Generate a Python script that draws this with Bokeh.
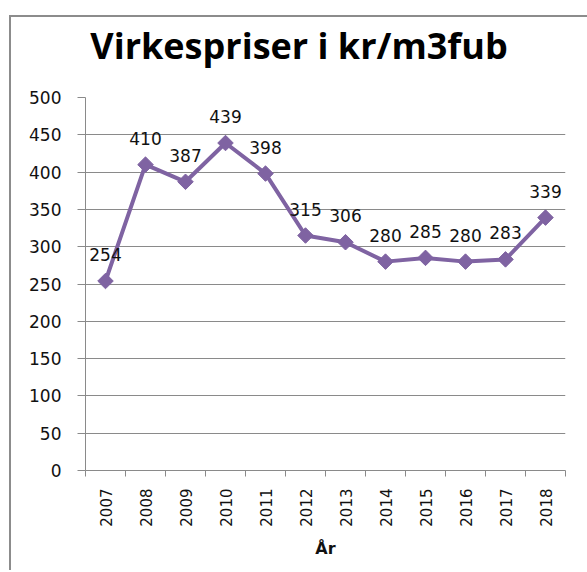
import math
from bokeh.plotting import figure
from bokeh.layouts import column
from bokeh.models import ColumnDataSource, FixedTicker, LabelSet, Range1d, Div
from bokeh.core.properties import value
from bokeh.embed import file_html
from bokeh.resources import INLINE

# ---- data ----
years = ["2007", "2008", "2009", "2010", "2011", "2012",
         "2013", "2014", "2015", "2016", "2017", "2018"]
prices = [254, 410, 387, 439, 398, 315, 306, 280, 285, 280, 283, 339]
y_ticks = [0, 50, 100, 150, 200, 250, 300, 350, 400, 450, 500]
title_text = "Virkespriser i kr/m3fub"
x_label = "År"

LINE_COLOR = "#7f63a2"
GRID_COLOR = "#8a8a8a"

xs = list(range(len(years)))
src = ColumnDataSource(dict(x=xs, y=prices, label=[str(v) for v in prices]))

title_div = Div(text='<div style="padding-top:11px; text-align:center; width:576px;">'
                     + title_text + '</div>',
                width=576, height=63, margin=(0, 0, 0, 0),
                styles={"font-family": "'Open Sans'", "font-weight": "700",
                        "font-size": "36px", "line-height": "36px",
                        "color": "#000000"})

p = figure(frame_width=480, frame_height=373,
           min_border_left=74, min_border_right=22,
           min_border_top=17, min_border_bottom=100,
           x_range=Range1d(-0.5, len(years) - 0.5),
           y_range=Range1d(y_ticks[0], y_ticks[-1]),
           output_backend="svg", toolbar_location=None,
           margin=(0, 0, 0, 0))

p.outline_line_color = None
p.background_fill_color = "white"
p.border_fill_color = "white"

# y axis
p.yaxis.ticker = FixedTicker(ticks=y_ticks)
p.yaxis.axis_line_color = GRID_COLOR
p.yaxis.major_tick_line_color = GRID_COLOR
p.yaxis.major_tick_out = 8
p.yaxis.major_tick_in = 0
p.yaxis.minor_tick_line_color = None
p.yaxis.major_label_standoff = 16
p.yaxis.major_label_text_font = "DejaVu Sans"
p.yaxis.major_label_text_font_size = "17px"
p.yaxis.major_label_text_color = "#111111"

# x axis: labels at category centres, ticks at boundaries
boundaries = [i - 0.5 for i in range(len(years) + 1)]
p.xaxis.ticker = FixedTicker(ticks=xs, minor_ticks=boundaries)
p.xaxis.major_label_overrides = {i: y for i, y in enumerate(years)}
p.xaxis.major_label_orientation = math.pi / 2
p.xaxis.axis_line_color = GRID_COLOR
p.xaxis.major_tick_line_color = None
p.xaxis.major_tick_out = 0
p.xaxis.major_tick_in = 0
p.xaxis.minor_tick_line_color = GRID_COLOR
p.xaxis.minor_tick_out = 6
p.xaxis.minor_tick_in = 0
p.xaxis.major_label_standoff = 12
p.xaxis.major_label_text_font = "DejaVu Sans"
p.xaxis.major_label_text_font_size = "15px"
p.xaxis.major_label_text_color = "#111111"
p.xaxis.axis_label = x_label
p.xaxis.axis_label_text_font = "DejaVu Sans"
p.xaxis.axis_label_text_font_style = "bold"
p.xaxis.axis_label_text_font_size = "16px"
p.xaxis.axis_label_standoff = 9
p.xaxis.axis_label_text_color = "#111111"

p.xgrid.grid_line_color = None
p.ygrid.grid_line_color = GRID_COLOR
p.ygrid.grid_line_width = 1

p.line("x", "y", source=src, line_color=LINE_COLOR, line_width=4)
p.scatter("x", "y", source=src, marker="square", angle=math.pi / 4, size=11,
          fill_color=LINE_COLOR, line_color=LINE_COLOR)

labels = LabelSet(x="x", y="y", text="label", source=src, y_offset=20,
                  text_align="center", text_baseline="alphabetic",
                  text_font=value("DejaVu Sans"), text_font_size=value("17px"),
                  text_color="#111111")
p.add_layout(labels)

layout = column(title_div, p, spacing=0, margin=(15, 0, 0, 9),
                styles={"border-left": "2px solid #8c8c8c",
                        "border-top": "2px solid #8c8c8c"})

open("out.html", "w").write(file_html(layout, INLINE))
